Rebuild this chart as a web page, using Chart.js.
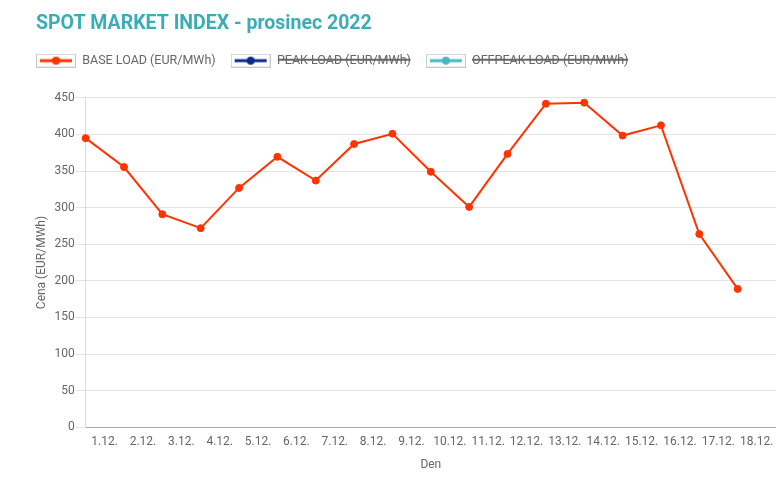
<!DOCTYPE html>
<html>
<head>
<meta charset="utf-8">
<script src="https://cdn.jsdelivr.net/npm/chart.js@4.4.1/dist/chart.umd.min.js"></script>
<style>
    html, body { margin: 0; padding: 0; background: #fff; }
</style>
</head>
<body>
<canvas id="spotChart" width="776" height="477"></canvas>
<script>
// categories (days of December) and series values
const days = ['1.12.', '2.12.', '3.12.', '4.12.', '5.12.', '6.12.', '7.12.', '8.12.', '9.12.',
    '10.12.', '11.12.', '12.12.', '13.12.', '14.12.', '15.12.', '16.12.', '17.12.', '18.12.'];
const baseLoad = [395, 355.5, 291, 272, 327, 369.5, 337, 387, 401, 349, 301, 373.5, 442, 443.5, 398.5, 412.5, 264, 189];
const peakLoad = [];
const offpeakLoad = [];

const seriesNames = ['BASE LOAD (EUR/MWh)', 'PEAK LOAD (EUR/MWh)', 'OFFPEAK LOAD (EUR/MWh)'];
const seriesColors = ['#ff3300', '#0a2a8a', '#4ab6c0'];
const yMin = 0, yMax = 450, yStep = 50;

document.addEventListener('DOMContentLoaded', function() {
    Chart.defaults.font.family = 'Roboto, "Open Sans", sans-serif';
    Chart.defaults.color = '#666';

    // legend swatch: grey frame with a line and a dot
    function makeSwatch(color) {
        const c = document.createElement('canvas');
        c.width = 40;
        c.height = 14;
        const g = c.getContext('2d');
        g.fillStyle = '#fff';
        g.fillRect(0, 0, 40, 14);
        g.strokeStyle = '#c8c8c8';
        g.lineWidth = 1;
        g.strokeRect(0.5, 0.5, 39, 13);
        g.strokeStyle = color;
        g.lineWidth = 3;
        g.beginPath();
        g.moveTo(4, 7);
        g.lineTo(36, 7);
        g.stroke();
        g.fillStyle = color;
        g.beginPath();
        g.arc(20, 7, 4, 0, Math.PI * 2);
        g.fill();
        return c;
    }
    const swatches = seriesColors.map(makeSwatch);
    const seriesData = [baseLoad, peakLoad, offpeakLoad];

    // extra room under the legend, and left edge for title + legend
    const layoutTweaks = {
        id: 'layoutTweaks',
        beforeInit(chart) {
            const fit = chart.legend.fit;
            chart.legend.fit = function() {
                fit.bind(chart.legend)();
                this.height += 21;
            };
        },
        afterLayout(chart) {
            chart.titleBlock.left = 36;
            chart.legend.left = 36 - chart.legend.options.labels.padding;
        }
    };

    const ctx = document.getElementById('spotChart').getContext('2d');
    window.spotChart = new Chart(ctx, {
        type: 'line',
        data: {
            // one empty slot at the end so the axis runs past the last day
            labels: days.concat(['']),
            datasets: seriesNames.map((name, i) => ({
                label: name,
                data: seriesData[i],
                borderColor: seriesColors[i],
                backgroundColor: seriesColors[i],
                borderWidth: 2,
                pointRadius: 3.5,
                pointBorderWidth: 1,
                tension: 0,
                fill: false,
                clip: false,
                hidden: i > 0
            }))
        },
        options: {
            responsive: false,
            animation: false,
            layout: {
                autoPadding: false,
                padding: { left: 31, right: 0, top: 0, bottom: 0 }
            },
            plugins: {
                title: {
                    display: true,
                    text: 'SPOT MARKET INDEX - prosinec 2022',
                    align: 'start',
                    color: '#3aadb8',
                    font: { size: 19.5, weight: 'bold' },
                    padding: { top: 12, bottom: 4 }
                },
                legend: {
                    align: 'start',
                    labels: {
                        usePointStyle: true,
                        pointStyleWidth: 40,
                        boxHeight: 14,
                        padding: 15,
                        font: { size: 12.5 },
                        generateLabels: function(chart) {
                            const items = Chart.defaults.plugins.legend.labels.generateLabels(chart);
                            items.forEach(item => { item.pointStyle = swatches[item.datasetIndex]; });
                            return items;
                        }
                    }
                },
                tooltip: { enabled: false }
            },
            scales: {
                x: {
                    // no visible grid, but the tick length still spaces the labels
                    grid: { display: false, drawTicks: true, tickLength: 8 },
                    border: { color: '#aaa' },
                    ticks: {
                        autoSkip: false,
                        maxRotation: 0,
                        labelOffset: 19,
                        padding: 0,
                        font: { size: 12 }
                    },
                    title: {
                        display: true,
                        text: 'Den',
                        font: { size: 12 },
                        padding: { top: 8, bottom: 5 }
                    }
                },
                y: {
                    min: yMin,
                    max: yMax,
                    grid: { color: '#e3e3e3', tickLength: 10 },
                    border: { color: '#ddd' },
                    ticks: {
                        stepSize: yStep,
                        padding: 1,
                        font: { size: 12 }
                    },
                    title: {
                        display: true,
                        text: 'Cena (EUR/MWh)',
                        font: { size: 12 }
                    }
                }
            }
        },
        plugins: [layoutTweaks]
    });
});
</script>
</body>
</html>
